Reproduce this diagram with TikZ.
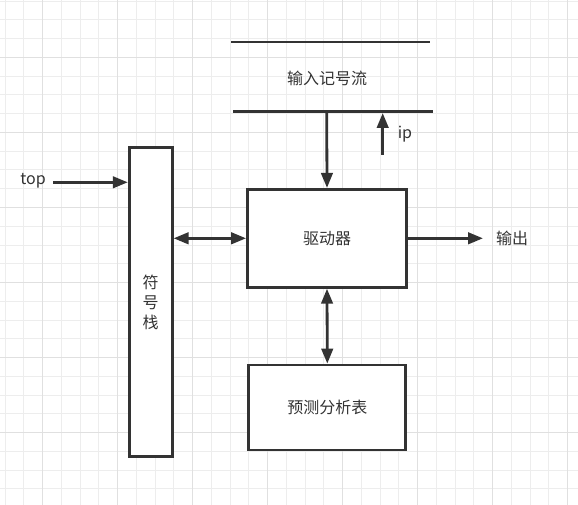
\documentclass[tikz,border=0pt]{standalone}
\usepackage{fontspec}
\setmainfont{Noto Sans CJK SC}
\usepackage{tikz}
\usetikzlibrary{arrows.meta,positioning}
\usepackage{xcolor}
\definecolor{ink}{HTML}{333333}
\definecolor{gridminor}{HTML}{EDEDED}
\definecolor{gridmajor}{HTML}{E0E0E0}

\begin{document}
\begin{tikzpicture}[x=1pt,y=-1pt,>={Triangle[length=15pt,width=11.5pt]},
    box/.style={draw=ink,line width=2.8pt,fill=white,font=\fontsize{16}{20}\selectfont,text=ink},
    lbl/.style={font=\fontsize{16}{20}\selectfont,text=ink,inner sep=2pt}]
				  \useasboundingbox (0,0) rectangle (578,505);
				  % grid
				  \foreach \i in {0,...,30} \draw[gridminor,line width=1pt] (5+18.75*\i,0) -- (5+18.75*\i,505);
				  \foreach \j in {0,...,26} \draw[gridminor,line width=1pt] (0,1.25+18.75*\j) -- (578,1.25+18.75*\j);
				  \foreach \i in {0,...,7} \draw[gridmajor,line width=1pt] (42.5+75*\i,0) -- (42.5+75*\i,505);
				  \foreach \j in {0,...,6} \draw[gridmajor,line width=1pt] (0,57.5+75*\j) -- (578,57.5+75*\j);

				  \node[box,minimum width=159pt,minimum height=98pt] (driver) at (327,238.3) {驱动器};
				  \node[box,minimum width=157pt,minimum height=85pt] (table)  at (327.3,407.5) {预测分析表};
				  \node[box,minimum width=43pt,minimum height=309.5pt,align=center] (stack) at (150.7,302) {符\\号\\栈};

				  % input stream
				  \coordinate (streamtopl) at (231,42);
				  \coordinate (streamtopr) at (430,42);
				  \coordinate (streambotl) at (233,111.7);
				  \coordinate (streambotr) at (433,111.7);
				  \coordinate (streamout)  at (326.7,111.7);
				  \node[lbl] (stream) at (327,78) {输入记号流};
				  \draw[ink,line width=2.8pt] (streamtopl) -- (streamtopr);
				  \draw[ink,line width=2.8pt] (streambotl) -- (streambotr);

				  \coordinate (ipstart) at (382.7,155);
				  \coordinate (iptip)   at (382.7,113);
				  \node[lbl] (ip)  at (405,134) {ip};
				  \node[lbl] (top) at (33,181) {top};
				  \coordinate (outtip) at (483,238.3);
				  \node[lbl,right=11pt of outtip] (out) {输出};

				\tikzset{arr/.style={->,draw=ink,fill=ink,line width=2.8pt}}
				\tikzset{arrboth/.style={<->,draw=ink,fill=ink,line width=2.8pt}}
				\draw[arr] (streamout) -- (driver.north);
				\draw[arr] (ipstart) -- (iptip);
				\draw[arr] (53,182.3) -- (stack.west |- 0,182.3);
				\draw[arrboth] (stack.east |- driver.west) -- (driver.west);
				\draw[arr] (driver.east) -- (outtip);
				\draw[arrboth] (driver.south) -- (table.north);
			\end{tikzpicture}
\end{document}
